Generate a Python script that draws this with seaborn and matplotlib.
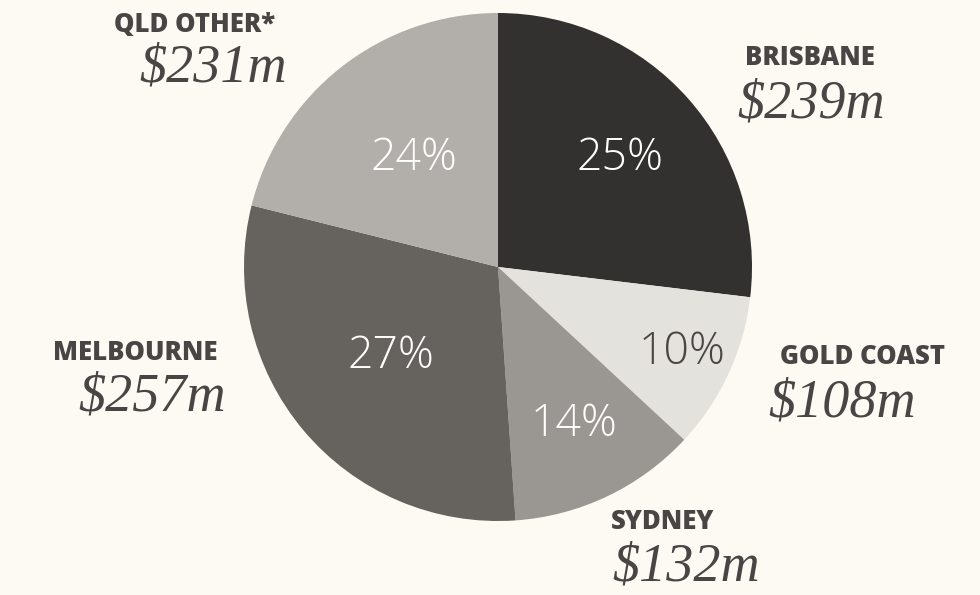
import numpy as np
import matplotlib
matplotlib.use("Agg")
import matplotlib.pyplot as plt
import seaborn as sns
from matplotlib import font_manager as fm

# ---- data ----
regions = ["BRISBANE", "GOLD COAST", "SYDNEY", "MELBOURNE", "QLD OTHER*"]
amounts = ["$239m", "$108m", "$132m", "$257m", "$231m"]
pct_labels = ["25%", "10%", "14%", "27%", "24%"]
# slice sizes as drawn in the picture (share of circle, %)
shares = [26.9, 10.0, 12.0, 30.0, 21.1]

colors = ["#32312f", "#e4e2dc", "#9a9792", "#66625e", "#b2afaa"]
pct_colors = ["white", "#4a4545", "white", "white", "white"]
pct_dist = [0.64, 0.80, 0.69, 0.55, 0.54]

BG = "#fdf9f3"
TXT = "#4a4545"

sns.set_theme(style="white")
plt.rcParams["font.family"] = ["Open Sans", "DejaVu Sans"]

serif_fp = fm.FontProperties(family="Liberation Serif", style="italic", size=39)

W, H = 980, 595
fig = plt.figure(figsize=(W / 100, H / 100), dpi=100, facecolor=BG)

cx, cy, R = 498, 267, 254
ax = fig.add_axes([(cx - R) / W, (H - cy - R) / H, 2 * R / W, 2 * R / H])
ax.set_facecolor(BG)

wedges, _ = ax.pie(shares, colors=colors, startangle=90, counterclock=False,
                   radius=1, wedgeprops=dict(linewidth=0))
ax.set_xlim(-1, 1)
ax.set_ylim(-1, 1)
ax.set_aspect("equal")
ax.axis("off")

for w, lab, c, d in zip(wedges, pct_labels, pct_colors, pct_dist):
    mid = np.deg2rad((w.theta1 + w.theta2) / 2)
    ax.text(d * np.cos(mid), d * np.sin(mid), lab, color=c, fontsize=32,
            fontweight="light", ha="center", va="center",
            family=["Open Sans", "DejaVu Sans"])

# outer labels (pixel positions of the name line and amount line)
label_pos = {
    "BRISBANE": (810, 58, 811, 104),
    "GOLD COAST": (862, 357, 842, 403),
    "SYDNEY": (663, 522, 686, 567),
    "MELBOURNE": (135, 353, 152, 397),
    "QLD OTHER*": (195, 25, 213, 68),
}
for reg, amt in zip(regions, amounts):
    x1, y1, x2, y2 = label_pos[reg]
    fig.text(x1 / W, 1 - y1 / H, reg, color=TXT, fontsize=18.5, fontweight="heavy",
             ha="center", va="center", family=["Open Sans", "DejaVu Sans"])
    fig.text(x2 / W, 1 - y2 / H, amt, color=TXT, fontproperties=serif_fp,
             ha="center", va="center")

fig.savefig("out.png", dpi=100, facecolor=BG)
